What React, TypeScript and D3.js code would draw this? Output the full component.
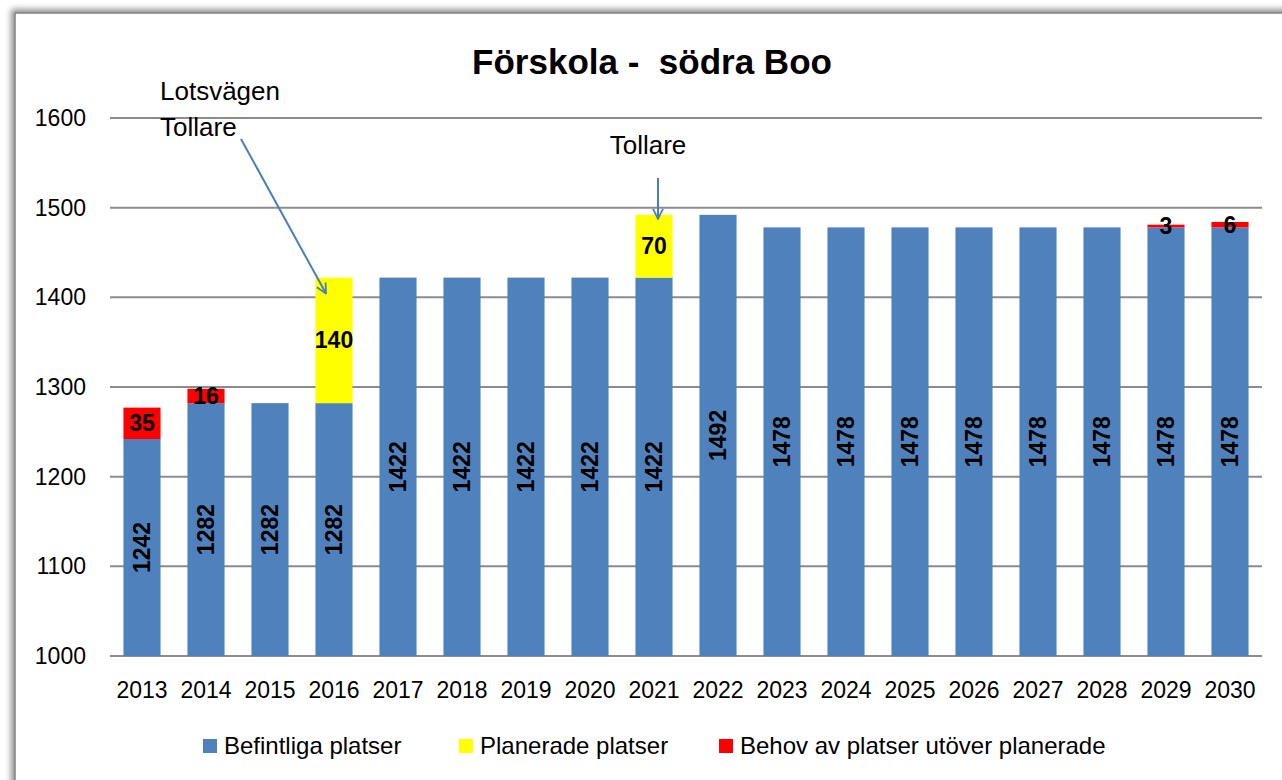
import React from "react";
import * as d3 from "d3";

const years = ["2013","2014","2015","2016","2017","2018","2019","2020","2021","2022","2023","2024","2025","2026","2027","2028","2029","2030"];
const befintliga = [1242,1282,1282,1282,1422,1422,1422,1422,1422,1492,1478,1478,1478,1478,1478,1478,1478,1478];
const planerade = [0,0,0,140,0,0,0,0,70,0,0,0,0,0,0,0,0,0];
const behov = [35,16,0,0,0,0,0,0,0,0,0,0,0,0,0,0,3,6];
const yTicks = [1000,1100,1200,1300,1400,1500,1600];
const seriesNames = ["Befintliga platser","Planerade platser","Behov av platser utöver planerade"];
const title = "Förskola -  södra Boo";

const W = 1282, H = 780;
const colors = ["#4F81BD", "#FFFF00", "#FF0000"];
const FONT = "'Liberation Sans', Arial, sans-serif";

export default function App() {
  const x = d3.scaleBand<string>().domain(years).range([110, 1262]).paddingInner(0.42).paddingOuter(0.21);
  const y = d3.scaleLinear().domain([1000, 1600]).range([656, 118]);
  const bw = x.bandwidth();

  const stacks = years.map((yr, i) => {
    const b0 = 1000, b1 = befintliga[i];
    const p1 = b1 + planerade[i];
    const r1 = p1 + behov[i];
    return { yr, segs: [[b0, b1], [b1, p1], [p1, r1]], vals: [befintliga[i], planerade[i], behov[i]] };
  });

  const legendX = [203, 459, 719];

  const x2016 = (x("2016") as number) + bw / 2;
  const x2021 = (x("2021") as number) + bw / 2;

  return (
    <svg width={W} height={H} style={{ position: "absolute", left: 0, top: 0 }} fontFamily={FONT}>
      <defs>
        <filter id="sh" x="-5%" y="-5%" width="110%" height="110%">
          <feDropShadow dx="-3" dy="-3" stdDeviation="3" floodColor="#000" floodOpacity="0.45" />
        </filter>
        <marker id="arr" viewBox="0 0 12 12" refX="11" refY="6" markerWidth="12" markerHeight="12" markerUnits="userSpaceOnUse" orient="auto">
          <path d="M1,1 L11,6 L1,11" fill="none" stroke="#4A7EBB" strokeWidth="1.8" />
        </marker>
      </defs>
      <rect x={0} y={0} width={W} height={H} fill="#fff" />
      <rect x={15} y={13} width={1300} height={820} fill="#fff" stroke="#808080" strokeWidth={1.5} filter="url(#sh)" />

      <text x={652} y={74} textAnchor="middle" fontWeight="bold" fontSize={35} style={{ whiteSpace: "pre" }}>{title}</text>

      {yTicks.map(t => (
        <g key={t}>
          <line x1={110} x2={1262} y1={y(t)} y2={y(t)} stroke="#8C8C8C" strokeWidth={2} />
          <text x={86} y={y(t)} dy="0.35em" textAnchor="end" fontSize={23}>{t}</text>
        </g>
      ))}

      {stacks.map(s => (
        <g key={s.yr}>
          {s.segs.map((sg, k) => sg[1] > sg[0] ? (
            <rect key={k} x={x(s.yr)} y={y(sg[1])} width={bw} height={y(sg[0]) - y(sg[1])} fill={colors[k]} />
          ) : null)}
          {s.segs.map((sg, k) => {
            if (!(sg[1] > sg[0])) return null;
            const cx = (x(s.yr) as number) + bw / 2;
            const cy = (y(sg[0]) + y(sg[1])) / 2;
            if (k === 0) {
              return <text key={"l" + k} transform={`translate(${cx},${cy}) rotate(-90)`} textAnchor="middle" dy="0.35em" fontWeight="bold" fontSize={23}>{s.vals[k]}</text>;
            }
            return <text key={"l" + k} x={cx} y={cy} dy="0.35em" textAnchor="middle" fontWeight="bold" fontSize={23}>{s.vals[k]}</text>;
          })}
          <text x={(x(s.yr) as number) + bw / 2} y={698} textAnchor="middle" fontSize={23}>{s.yr}</text>
        </g>
      ))}

      <text x={160} y={100} fontSize={26}>Lotsvägen</text>
      <text x={160} y={136} fontSize={26}>Tollare</text>
      <line x1={241} y1={139} x2={x2016 - 8} y2={y(1422) + 16} stroke="#4A7EBB" strokeWidth={2} markerEnd="url(#arr)" />

      <text x={648} y={154} textAnchor="middle" fontSize={26}>Tollare</text>
      <line x1={x2021 + 4} y1={178} x2={x2021 + 4} y2={y(1492) + 4} stroke="#4A7EBB" strokeWidth={2} markerEnd="url(#arr)" />

      {seriesNames.map((n, i) => (
        <g key={n}>
          <rect x={legendX[i]} y={739} width={14} height={14} fill={colors[i]} />
          <text x={legendX[i] + 21} y={746} dy="0.35em" fontSize={24}>{n}</text>
        </g>
      ))}
    </svg>
  );
}
